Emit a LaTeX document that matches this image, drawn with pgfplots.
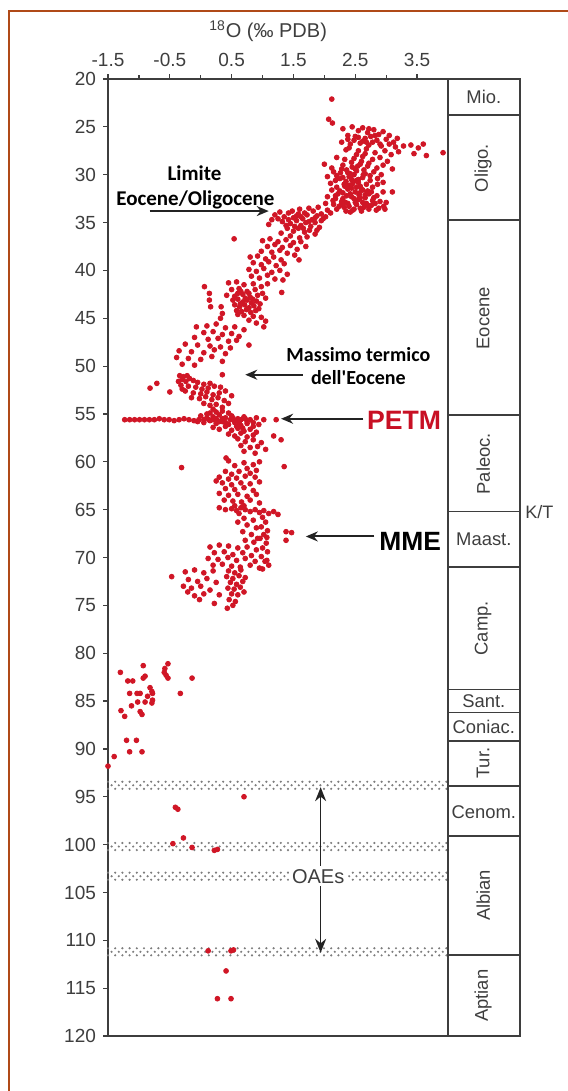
\documentclass[border=0pt]{standalone}
\usepackage{fontspec}
\setmainfont{Liberation Sans}
\newfontfamily\carlito{Carlito}
\usepackage{pgfplots}
\pgfplotsset{compat=1.18}
\usetikzlibrary{arrows.meta}
\definecolor{dotred}{RGB}{208,22,38}
\definecolor{petmred}{RGB}{200,16,36}
\definecolor{axgray}{RGB}{62,62,62}
\definecolor{arrgray}{RGB}{35,35,35}
\definecolor{framec}{RGB}{176,74,24}
\definecolor{oaegray}{RGB}{125,125,125}
\tikzset{
  oaedot/.style={oaegray, line width=1.2pt, line cap=round, dash pattern=on 0pt off 3.6pt},
  oaemid/.style={oaegray, line width=1.2pt, line cap=round, dash pattern=on 0pt off 3.6pt, dash phase=1.8pt},
  stg/.style={font=\fontsize{9.2}{10}\selectfont, text=axgray},
  annarrow/.style={line width=1pt, arrgray, -{Stealth[length=6pt,width=5pt]}},
}
\begin{document}
\begin{tikzpicture}
\path[use as bounding box] (0,0) rectangle (283.5pt,-545.5pt);
\draw[framec, line width=1pt] (4.5pt,-546pt) -- (4.5pt,-5.3pt) -- (284pt,-5.3pt);
\begin{axis}[
  at={(54pt,-39.5pt)}, anchor=north west, scale only axis,
  width=170pt, height=478.5pt,
  xmin=-1.5, xmax=4, ymin=20, ymax=120, y dir=reverse,
  clip=false,
  axis line style={axgray, line width=0.9pt},
  xtick={-1.5,-0.5,0.5,1.5,2.5,3.5},
  xticklabels={-1.5,-0.5,0.5,1.5,2.5,3.5},
  minor xtick={-1,0,1,2,3},
  xtick pos=upper, xticklabel pos=upper,
  ytick={20,25,...,120},
  ytick pos=lower,
  tick align=outside,
  major tick length=2.5pt, minor tick length=1.8pt,
  tick style={axgray, line width=0.6pt},
  tick label style={font=\fontsize{9.5}{11}\selectfont, text=axgray},
  /pgf/number format/assume math mode=true,
]
% OAE bands
\draw[oaedot] (axis cs:-1.5,93.43) -- (axis cs:4,93.43);
\draw[oaemid] (axis cs:-1.5,93.8) -- (axis cs:4,93.8);
\draw[oaedot] (axis cs:-1.5,94.17) -- (axis cs:4,94.17);
\draw[oaedot] (axis cs:-1.5,99.83) -- (axis cs:4,99.83);
\draw[oaemid] (axis cs:-1.5,100.2) -- (axis cs:4,100.2);
\draw[oaedot] (axis cs:-1.5,100.57) -- (axis cs:4,100.57);
\draw[oaedot] (axis cs:-1.5,102.93) -- (axis cs:4,102.93);
\draw[oaemid] (axis cs:-1.5,103.3) -- (axis cs:4,103.3);
\draw[oaedot] (axis cs:-1.5,103.67) -- (axis cs:4,103.67);
\draw[oaedot] (axis cs:-1.5,110.83) -- (axis cs:4,110.83);
\draw[oaemid] (axis cs:-1.5,111.2) -- (axis cs:4,111.2);
\draw[oaedot] (axis cs:-1.5,111.57) -- (axis cs:4,111.57);

\addplot[only marks, mark=*, mark size=1.2pt, color=dotred] coordinates {
(2.12,22.1) (2.07,24.2) (2.13,24.6) (2.30,25.2) (2.45,25.0) (2.55,25.4) (2.62,25.1) (2.70,25.6) (2.80,25.3) (2.88,25.8) (2.95,25.5) (3.05,25.9)
(2.38,25.9) (2.50,26.0) (2.66,26.2) (2.75,26.0) (2.85,26.4) (3.00,26.3) (3.12,26.6) (2.28,26.6) (2.42,26.8) (2.58,26.7) (2.72,26.9) (2.92,27.0)
(3.15,27.1) (3.28,27.0) (3.40,26.9) (3.52,27.2) (3.60,26.8) (3.20,27.6) (3.45,27.8) (3.65,28.0) (3.92,27.7) (2.35,27.4) (2.55,27.5) (2.68,27.3)
(2.82,27.7) (2.98,27.5) (3.08,27.9) (2.20,28.2) (2.48,28.3) (2.62,28.1) (2.78,28.4) (2.90,28.2) (3.02,28.6) (2.00,28.9) (2.30,29.0) (2.45,29.2)
(2.58,28.9) (2.70,29.1) (2.85,29.3) (2.95,29.0) (3.10,29.4) (2.15,29.7) (2.38,29.8) (2.52,29.6) (2.66,29.9) (2.80,29.7) (2.92,30.0) (2.25,30.4)
(2.40,30.2) (2.55,30.5) (2.62,30.3) (2.74,30.6) (2.86,30.4) (2.10,30.9) (2.32,31.0) (2.46,30.9) (2.58,31.2) (2.68,31.0) (2.78,31.3) (2.95,31.8)
(3.10,31.8) (2.12,31.6) (2.25,31.7) (2.38,31.5) (2.50,31.8) (2.62,31.6) (2.72,32.0) (2.85,32.2) (2.05,32.3) (2.18,32.2) (2.30,32.5) (2.44,32.3)
(2.55,32.6) (2.66,32.4) (2.78,32.7) (2.90,32.8) (3.00,32.9) (2.02,33.0) (2.15,33.1) (2.28,33.0) (2.40,33.3) (2.52,33.1) (2.64,33.4) (2.76,33.2)
(2.88,33.5) (2.96,33.3) (2.20,33.6) (2.35,33.8) (2.48,33.6) (2.60,33.8) (2.72,33.6)
(2.20,30.1) (2.35,30.7) (2.48,30.0) (2.60,31.5) (2.42,32.0) (2.56,32.1) (2.33,31.2) (2.20,31.3) (2.28,32.8) (2.50,32.9) (2.62,32.9) (2.70,31.7)
(2.44,31.4) (2.38,33.0) (2.58,33.5) (2.14,32.7) (2.24,33.3) (2.68,33.0) (2.82,33.0) (2.36,29.5) (2.50,29.4) (2.64,29.5) (2.28,29.4) (2.74,30.1)
(2.44,28.7) (2.60,28.6) (2.72,28.8) (2.33,28.4) (2.52,27.9) (2.66,27.8) (2.40,27.2) (2.62,26.5) (2.48,26.4) (2.78,26.6) (2.90,26.8) (3.05,26.8)
(2.38,26.3) (2.95,30.8) (2.55,30.8) (2.05,30.2) (2.12,29.3)
(2.30,31.9) (2.40,31.1) (2.52,30.6) (2.63,30.0) (2.48,32.5) (2.36,32.2) (2.22,32.0) (2.58,32.4) (2.46,33.7) (2.32,33.4) (2.70,33.2) (2.84,33.7)
(2.98,33.6) (2.76,31.8) (2.86,31.0) (2.54,29.1) (2.42,29.9) (2.26,29.8) (2.68,26.6) (2.55,26.1) (2.82,25.9) (2.72,25.2) (3.18,26.2)
(2.18,30.6) (2.30,30.3) (2.44,30.5) (2.57,31.9) (2.66,32.1) (2.34,32.9) (2.18,32.5) (2.52,31.3) (2.42,33.9) (2.80,32.4)
(1.20,34.2) (1.28,33.9) (1.35,34.4) (1.42,34.0) (1.50,34.5) (1.58,34.1) (1.65,34.6) (1.72,34.2) (1.80,34.7) (1.88,34.3) (1.95,34.8) (2.02,34.4)
(2.10,34.0) (1.32,34.9) (1.45,35.1) (1.55,34.8) (1.62,35.3) (1.70,35.0) (1.78,35.4) (1.85,35.0) (1.92,35.5) (1.40,35.6) (1.50,35.9) (1.58,35.6)
(1.68,36.0) (1.76,35.8) (1.85,36.2) (1.30,36.1) (1.45,36.4) (1.60,36.6) (1.72,36.5) (1.25,34.6) (1.38,35.3) (1.52,35.4) (1.68,34.0) (1.82,33.8)
(1.95,34.1) (2.05,33.7) (1.48,33.8) (1.60,33.6) (1.75,33.5) (1.90,33.4) (1.15,34.7) (1.10,35.2) (0.54,36.7)
(1.55,34.3) (1.75,34.9) (1.62,34.4) (1.85,34.5) (1.42,34.7) (1.88,35.8) (1.66,35.6) (1.98,34.6)
(1.00,36.9) (1.12,36.7) (1.25,37.0) (1.38,36.8) (1.50,37.1) (1.62,37.0) (1.08,37.5) (1.20,37.3) (1.32,37.6) (1.45,37.4) (1.56,37.8) (1.70,37.5)
(0.98,38.0) (1.15,38.1) (1.28,37.9) (1.40,38.2) (1.52,38.4) (1.59,38.9)
(0.80,38.6) (0.92,38.5) (1.05,38.8) (1.18,38.6) (1.30,38.9) (0.85,39.2) (0.98,39.4) (1.10,39.1) (1.22,39.5) (1.35,39.3) (0.78,39.9) (0.90,40.1)
(1.02,39.8) (1.15,40.2) (1.28,40.0) (1.40,40.4) (0.82,40.6) (0.95,40.8) (1.08,40.5) (1.20,40.9) (1.33,41.0) (0.06,41.7)
(0.45,41.3) (0.58,41.2) (0.70,41.5) (0.85,41.4) (0.98,41.7) (1.08,41.4) (0.50,42.0) (0.62,41.9) (0.75,42.2) (0.88,42.0) (1.00,42.4) (0.42,42.6)
(0.55,42.7) (0.68,42.5) (0.80,42.8) (0.92,42.6) (1.05,42.9) (1.31,42.3)
(0.52,43.1) (0.60,43.0) (0.68,43.3) (0.75,43.1) (0.82,43.4) (0.90,43.2) (0.96,43.5) (0.55,43.6) (0.63,43.8) (0.71,43.6) (0.78,43.9) (0.86,43.7)
(0.94,44.0) (0.58,44.2) (0.66,44.3) (0.74,44.1) (0.81,44.4) (0.89,44.2) (0.70,44.7) (0.60,44.6) (0.78,42.4) (0.65,42.2)
(0.64,43.5) (0.72,42.9) (0.84,43.0) (0.60,42.4)
(0.14,42.4) (0.14,43.1) (0.16,43.8) (0.33,43.8) (0.35,44.5) (0.32,45.0)
(0.85,44.8) (0.98,44.9) (1.05,45.3) (0.90,45.5) (1.02,45.9) (0.78,45.2) (-0.07,45.9)
(0.10,45.8) (0.25,45.6) (0.40,46.0) (0.55,45.9) (0.70,46.2) (0.05,46.5) (0.20,46.4) (0.35,46.7) (0.50,46.6) (0.62,46.9) (-0.10,47.0) (0.12,47.2)
(0.28,47.1) (0.45,47.4) (0.58,47.3) (0.78,47.8) (-0.25,47.7) (-0.05,47.8) (0.15,47.9) (0.32,48.0) (0.48,48.1) (-0.35,48.4) (-0.15,48.5) (0.05,48.6)
(0.22,48.3) (0.40,48.7) (-0.39,49.1) (-0.20,49.2) (0.00,49.3) (0.18,49.0) (0.35,49.5) (-0.30,49.8) (-0.10,49.9) (0.35,50.9)
(-0.82,52.3) (-0.71,51.8) (-0.50,52.7)
(-0.34,51.0) (-0.28,51.1) (-0.22,51.0) (-0.18,51.3) (-0.30,51.4) (-0.36,51.6) (-0.24,51.6) (-0.12,51.5) (-0.05,51.7) (0.05,51.9) (-0.32,52.0) (-0.20,52.1)
(-0.08,52.2) (0.02,52.4) (0.12,52.3) (0.22,52.1) (-0.25,52.6) (-0.12,52.8) (0.00,52.9) (0.10,52.7) (0.20,53.0) (0.30,52.8) (0.40,52.6) (-0.15,53.3)
(-0.02,53.4) (0.08,53.2) (0.18,53.5) (0.28,53.3) (0.38,53.6) (0.50,53.1) (0.05,53.9) (0.15,54.1) (0.25,54.0) (0.35,54.3) (0.45,53.9) (0.20,54.5)
(-0.30,52.4) (0.32,52.2) (0.15,51.8)
(-1.23,55.6) (-1.15,55.6) (-1.07,55.6) (-0.99,55.6) (-0.91,55.6) (-0.83,55.6) (-0.75,55.6) (-0.67,55.5) (-0.59,55.6) (-0.51,55.6) (-0.43,55.7)
(-0.35,55.6) (-0.27,55.5) (-0.19,55.6) (-0.11,55.7) (-0.03,55.6) (0.05,55.6) (0.13,55.6)
(0.00,55.2) (0.10,55.0) (0.20,55.3) (0.30,55.1) (0.40,55.4) (0.50,55.2) (0.60,55.5) (0.70,55.3) (0.80,55.6) (0.90,55.4) (-0.05,55.8) (0.05,55.9)
(0.15,55.7) (0.25,56.0) (0.35,55.8) (0.45,56.1) (0.55,55.9) (0.65,56.2) (0.75,56.0) (0.85,56.3) (0.94,56.1) (0.20,56.4) (0.30,56.6) (0.40,56.3)
(0.50,56.7) (0.60,56.5) (0.70,56.8) (0.80,56.6) (0.90,56.9) (0.45,57.1) (0.55,57.3) (0.65,57.0) (0.75,57.4) (0.85,57.2) (0.25,54.8) (0.35,54.7)
(0.15,54.9) (0.45,54.9) (0.55,55.7) (0.35,55.5) (0.25,55.5) (0.10,55.4) (0.65,55.6) (0.75,55.8) (0.85,55.9) (0.48,55.6) (0.58,56.3) (0.68,56.5)
(0.40,55.9) (0.52,55.4) (0.62,55.9) (0.30,55.8) (0.72,55.5) (0.20,55.6)
(1.02,55.6) (1.22,55.6) (1.18,57.3) (1.30,57.7)
(0.60,57.6) (0.72,57.9) (0.85,57.7) (0.98,58.0) (0.65,58.3) (0.80,58.5) (0.92,58.4) (1.05,58.7) (0.70,58.9) (0.88,59.1)
(0.41,59.6) (-0.31,60.6) (1.35,60.5)
(0.70,60.1) (0.85,60.3) (0.95,60.0) (0.75,60.7) (0.90,60.9) (0.80,61.2)
(0.45,59.9) (0.55,60.4) (0.40,61.0) (0.50,61.3) (0.62,61.0) (0.30,61.6) (0.45,61.8) (0.58,61.7) (0.72,61.5) (0.88,61.6) (0.35,62.2) (0.50,62.4)
(0.65,62.2) (0.80,62.3) (0.95,62.1) (0.40,62.8) (0.55,62.9) (0.70,62.7) (0.85,63.0) (0.30,63.3) (0.45,63.5) (0.60,63.4) (0.75,63.6) (0.90,63.4)
(0.38,64.0) (0.52,64.1) (0.66,64.2) (0.80,64.0) (0.95,64.3) (0.25,62.0)
(0.30,64.8) (0.40,65.0) (0.50,64.9) (0.58,65.1) (0.65,64.8) (0.72,65.0) (0.80,65.2) (0.88,65.0) (0.95,65.3) (1.02,65.1) (1.10,65.4) (1.18,65.2)
(1.25,65.5) (0.62,65.4) (0.70,64.6) (0.55,64.6)
(1.00,65.8) (1.05,66.3) (0.98,66.8) (1.08,67.2) (1.02,67.6) (0.96,68.0) (1.06,68.5) (1.00,69.0) (1.08,69.4) (0.98,69.9) (1.04,70.4) (1.10,70.8)
(1.00,71.2) (1.38,67.3) (1.47,67.4) (1.38,68.2) (1.07,67.9)
(0.70,65.9) (0.85,66.1) (0.75,66.6) (0.90,66.9) (0.68,67.3) (0.82,67.6) (0.92,68.0) (0.72,68.2) (0.86,68.4) (0.60,66.3)
(0.15,68.9) (0.30,68.7) (0.45,68.8) (0.60,69.0) (0.75,68.9) (0.90,69.2) (0.22,69.5) (0.38,69.4) (0.52,69.7) (0.68,69.5) (0.82,69.8) (0.12,70.1)
(0.28,70.2) (0.44,70.0) (0.58,70.3) (0.72,70.1) (0.88,70.4) (0.20,70.8) (0.35,70.7) (0.50,70.9) (0.64,71.0) (0.80,70.8) (0.95,71.1) (1.07,70.3)
(0.45,71.4) (0.55,71.6) (0.65,71.3) (0.42,72.0) (0.52,72.2) (0.62,71.9) (0.72,72.1) (0.48,72.6) (0.58,72.8) (0.68,72.5) (0.44,73.2) (0.54,73.3)
(0.64,73.1) (0.50,73.8) (0.60,73.9) (0.70,73.6) (0.46,74.4) (0.56,74.6) (0.43,75.3) (0.52,75.0) (-0.47,72.0)
(-0.25,71.5) (-0.10,71.3) (0.05,71.6) (0.20,71.4) (-0.20,72.3) (-0.05,72.5) (0.10,72.2) (0.25,72.6) (-0.28,73.0) (-0.15,73.2) (0.00,73.0) (0.15,73.4)
(-0.21,73.6) (-0.10,74.0) (0.05,73.8) (0.22,74.8) (-0.02,74.4) (0.30,73.9)
(-0.93,81.3) (-0.53,81.1) (-0.58,81.6) (-0.59,82.0) (-0.56,82.3) (-0.53,82.6) (-1.30,82.0) (-0.90,82.4) (-0.93,82.6) (-0.14,82.6) (-1.18,82.9) (-1.10,82.9)
(-0.82,83.6) (-0.79,84.0) (-1.15,84.2) (-1.03,84.2) (-0.98,84.2) (-0.86,84.5) (-0.78,84.2) (-0.33,84.2) (-1.02,85.1) (-0.90,85.1) (-0.79,85.2) (-0.78,84.9)
(-1.12,85.5) (-1.29,86.0) (-1.23,86.6) (-0.98,86.1) (-0.95,86.4) (-1.20,89.1) (-1.04,89.1) (-1.15,90.3) (-0.95,90.3) (-1.40,90.8) (-1.50,91.8)
(0.70,95.0) (-0.41,96.1) (-0.37,96.3) (-0.28,99.3) (-0.45,99.9) (-0.14,100.3) (0.22,100.6) (0.27,100.5)
(0.12,111.1) (0.49,111.1) (0.53,111.0) (0.41,113.2) (0.27,116.1) (0.49,116.1)
};

% stage column
\draw[axgray, line width=0.9pt] (axis cs:4,20) rectangle (axis cs:5.165,120);
\draw[axgray, line width=0.9pt] (axis cs:4,23.76) -- (axis cs:5.165,23.76);
\draw[axgray, line width=0.9pt] (axis cs:4,34.77) -- (axis cs:5.165,34.77);
\draw[axgray, line width=0.9pt] (axis cs:4,55.1) -- (axis cs:5.165,55.1);
\draw[axgray, line width=0.9pt] (axis cs:4,65.2) -- (axis cs:5.165,65.2);
\draw[axgray, line width=0.9pt] (axis cs:4,71.0) -- (axis cs:5.165,71.0);
\draw[axgray, line width=0.9pt] (axis cs:4,83.8) -- (axis cs:5.165,83.8);
\draw[axgray, line width=0.9pt] (axis cs:4,86.2) -- (axis cs:5.165,86.2);
\draw[axgray, line width=0.9pt] (axis cs:4,89.2) -- (axis cs:5.165,89.2);
\draw[axgray, line width=0.9pt] (axis cs:4,93.9) -- (axis cs:5.165,93.9);
\draw[axgray, line width=0.9pt] (axis cs:4,99.1) -- (axis cs:5.165,99.1);
\draw[axgray, line width=0.9pt] (axis cs:4,111.5) -- (axis cs:5.165,111.5);
\node[stg] at (axis cs:4.58,21.9) {Mio.};
\node[stg, rotate=90] at (axis cs:4.57,29.3) {Oligo.};
\node[stg, rotate=90] at (axis cs:4.57,45.0) {Eocene};
\node[stg, rotate=90] at (axis cs:4.57,60.2) {Paleoc.};
\node[stg] at (axis cs:4.58,68.1) {Maast.};
\node[stg, rotate=90] at (axis cs:4.57,77.4) {Camp.};
\node[stg] at (axis cs:4.58,85.0) {Sant.};
\node[stg] at (axis cs:4.58,87.7) {Coniac.};
\node[stg, rotate=90] at (axis cs:4.57,91.5) {Tur.};
\node[stg] at (axis cs:4.58,96.6) {Cenom.};
\node[stg, rotate=90] at (axis cs:4.57,105.3) {Albian};
\node[stg, rotate=90] at (axis cs:4.57,115.8) {Aptian};
\node[font=\fontsize{9}{10}\selectfont, text=axgray] at (axis cs:5.48,65.2) {K/T};

% title
\node[font=\fontsize{10}{12}\selectfont, text=axgray] at (axis cs:1.09,15.0) {\textsuperscript{18}O (‰ PDB)};

% annotations
\node[font=\carlito\bfseries\fontsize{10.5}{12}\selectfont] at (axis cs:-0.10,29.8) {Limite};
\node[font=\carlito\bfseries\fontsize{10.5}{12}\selectfont] at (axis cs:-0.085,32.6) {Eocene/Oligocene};
\draw[annarrow] (axis cs:-0.825,33.8) -- (axis cs:1.10,33.8);
\node[font=\carlito\bfseries\fontsize{10}{12}\selectfont] at (axis cs:2.55,48.8) {Massimo termico};
\node[font=\carlito\bfseries\fontsize{10}{12}\selectfont] at (axis cs:2.55,51.2) {dell'Eocene};
\draw[annarrow] (axis cs:1.65,50.9) -- (axis cs:0.72,50.9);
\node[font=\bfseries\fontsize{13.3}{15}\selectfont, text=petmred] at (axis cs:3.29,55.7) {PETM};
\draw[annarrow] (axis cs:2.63,55.5) -- (axis cs:1.30,55.5);
\node[font=\bfseries\fontsize{13.2}{15}\selectfont] at (axis cs:3.39,68.3) {MME};
\draw[annarrow] (axis cs:2.81,67.8) -- (axis cs:1.70,67.8);
% OAEs
\draw[line width=0.8pt, arrgray, {Stealth[length=7pt,width=5.5pt]}-{Stealth[length=7pt,width=5.5pt]}] (axis cs:1.94,94.0) -- (axis cs:1.94,111.3);
\node[fill=white, inner sep=1.5pt, font=\fontsize{10}{12}\selectfont, text=axgray] at (axis cs:1.90,103.3) {OAEs};
\end{axis}
\end{tikzpicture}
\end{document}
